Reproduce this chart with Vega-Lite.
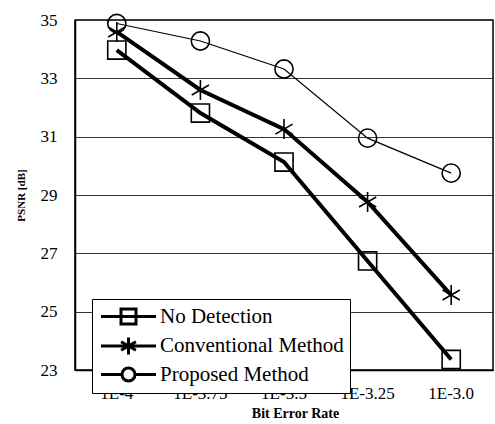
{
  "$schema": "https://vega.github.io/schema/vega-lite/v6.json",
  "width": 418,
  "height": 350,
  "autosize": "none",
  "padding": {"left": 75, "top": 20, "right": 2, "bottom": 54},
  "background": "white",
  "config": {
    "view": {"stroke": "black", "strokeWidth": 1.5},
    "font": "Liberation Serif"
  },
  "data": {
    "values": [
      {"ber": "1E-4", "series": "No Detection", "psnr": 33.97},
      {"ber": "1E-3.75", "series": "No Detection", "psnr": 31.81},
      {"ber": "1E-3.5", "series": "No Detection", "psnr": 30.13},
      {"ber": "1E-3.25", "series": "No Detection", "psnr": 26.74},
      {"ber": "1E-3.0", "series": "No Detection", "psnr": 23.36},
      {"ber": "1E-4", "series": "Conventional Method", "psnr": 34.59},
      {"ber": "1E-3.75", "series": "Conventional Method", "psnr": 32.6},
      {"ber": "1E-3.5", "series": "Conventional Method", "psnr": 31.26},
      {"ber": "1E-3.25", "series": "Conventional Method", "psnr": 28.76},
      {"ber": "1E-3.0", "series": "Conventional Method", "psnr": 25.57},
      {"ber": "1E-4", "series": "Proposed Method", "psnr": 34.88},
      {"ber": "1E-3.75", "series": "Proposed Method", "psnr": 34.28},
      {"ber": "1E-3.5", "series": "Proposed Method", "psnr": 33.32},
      {"ber": "1E-3.25", "series": "Proposed Method", "psnr": 30.95},
      {"ber": "1E-3.0", "series": "Proposed Method", "psnr": 29.75}
    ]
  },
  "encoding": {
    "x": {
      "field": "ber", "type": "ordinal", "sort": null,
      "scale": {"type": "band", "paddingInner": 0, "paddingOuter": 0},
      "axis": {
        "title": "Bit Error Rate", "titleFont": "Liberation Serif", "titleFontSize": 14, "titleFontWeight": "bold",
        "titleColor": "black", "titlePadding": 5, "titleX": 220,
        "labelAngle": 0, "labelFont": "Liberation Serif", "labelFontSize": 17, "labelColor": "black",
        "labelPadding": 15, "ticks": false, "domainColor": "black", "domainWidth": 1.5
      }
    },
    "y": {
      "field": "psnr", "type": "quantitative",
      "scale": {"domain": [23, 35], "nice": false, "zero": false},
      "axis": {
        "title": "PSNR [dB]", "titleFont": "Liberation Serif", "titleFontSize": 11, "titleFontWeight": "bold",
        "titleColor": "black", "titlePadding": 14,
        "values": [23, 25, 27, 29, 31, 33, 35],
        "labelFont": "Liberation Serif", "labelFontSize": 17, "labelColor": "black",
        "labelPadding": 18, "ticks": false, "domainColor": "black", "domainWidth": 1.5,
        "grid": true, "gridColor": "#333333", "gridWidth": 1
      }
    }
  },
  "layer": [
    {
      "transform": [{"filter": "datum.series !== 'Proposed Method'"}],
      "mark": {"type": "line", "color": "black", "strokeWidth": 4},
      "encoding": {"detail": {"field": "series"}}
    },
    {
      "transform": [{"filter": "datum.series === 'Proposed Method'"}],
      "mark": {"type": "line", "color": "black", "strokeWidth": 1.2},
      "encoding": {"detail": {"field": "series"}}
    },
    {
      "mark": {"type": "point", "filled": false, "stroke": "black", "strokeWidth": 1.6, "opacity": 1, "size": 330},
      "encoding": {
        "shape": {
          "field": "series", "type": "nominal",
          "scale": {
            "domain": ["No Detection", "Conventional Method", "Proposed Method"],
            "range": ["square", "M0,-1.1L0,1.1M-0.95,-0.55L0.95,0.55M-0.95,0.55L0.95,-0.55", "circle"]
          },
          "legend": null
        }
      }
    },
    {
      "mark": {"type": "point", "filled": false, "stroke": "black", "opacity": 0},
      "encoding": {
        "shape": {
          "field": "series", "type": "nominal",
          "scale": {
            "domain": ["No Detection", "Conventional Method", "Proposed Method"],
            "range": [
              "M-2.75,0L2.75,0M-0.75,-0.75L0.75,-0.75L0.75,0.75L-0.75,0.75Z",
              "M-2.75,0L2.75,0M0,-0.85L0,0.85M-0.74,-0.43L0.74,0.43M-0.74,0.43L0.74,-0.43",
              "M-2.75,0L-0.65,0M0.65,0L2.75,0M0.65,0A0.65,0.65 0 1 1 -0.65,0A0.65,0.65 0 1 1 0.65,0"
            ]
          },
          "legend": {
            "orient": "none", "legendX": 17, "legendY": 279,
            "title": null, "direction": "vertical",
            "strokeColor": "black", "fillColor": "white",
            "padding": 6,
            "symbolSize": 400, "symbolStrokeColor": "black", "symbolFillColor": "transparent",
            "symbolOpacity": 1, "symbolStrokeWidth": 3,
            "symbolOffset": 19,
            "labelFont": "Liberation Serif", "labelFontSize": 21, "labelColor": "black",
            "labelOffset": 20, "rowPadding": 1.5, "labelLimit": 300
          }
        }
      }
    }
  ],
  "resolve": {"scale": {"shape": "independent"}, "legend": {"shape": "independent"}}
}
